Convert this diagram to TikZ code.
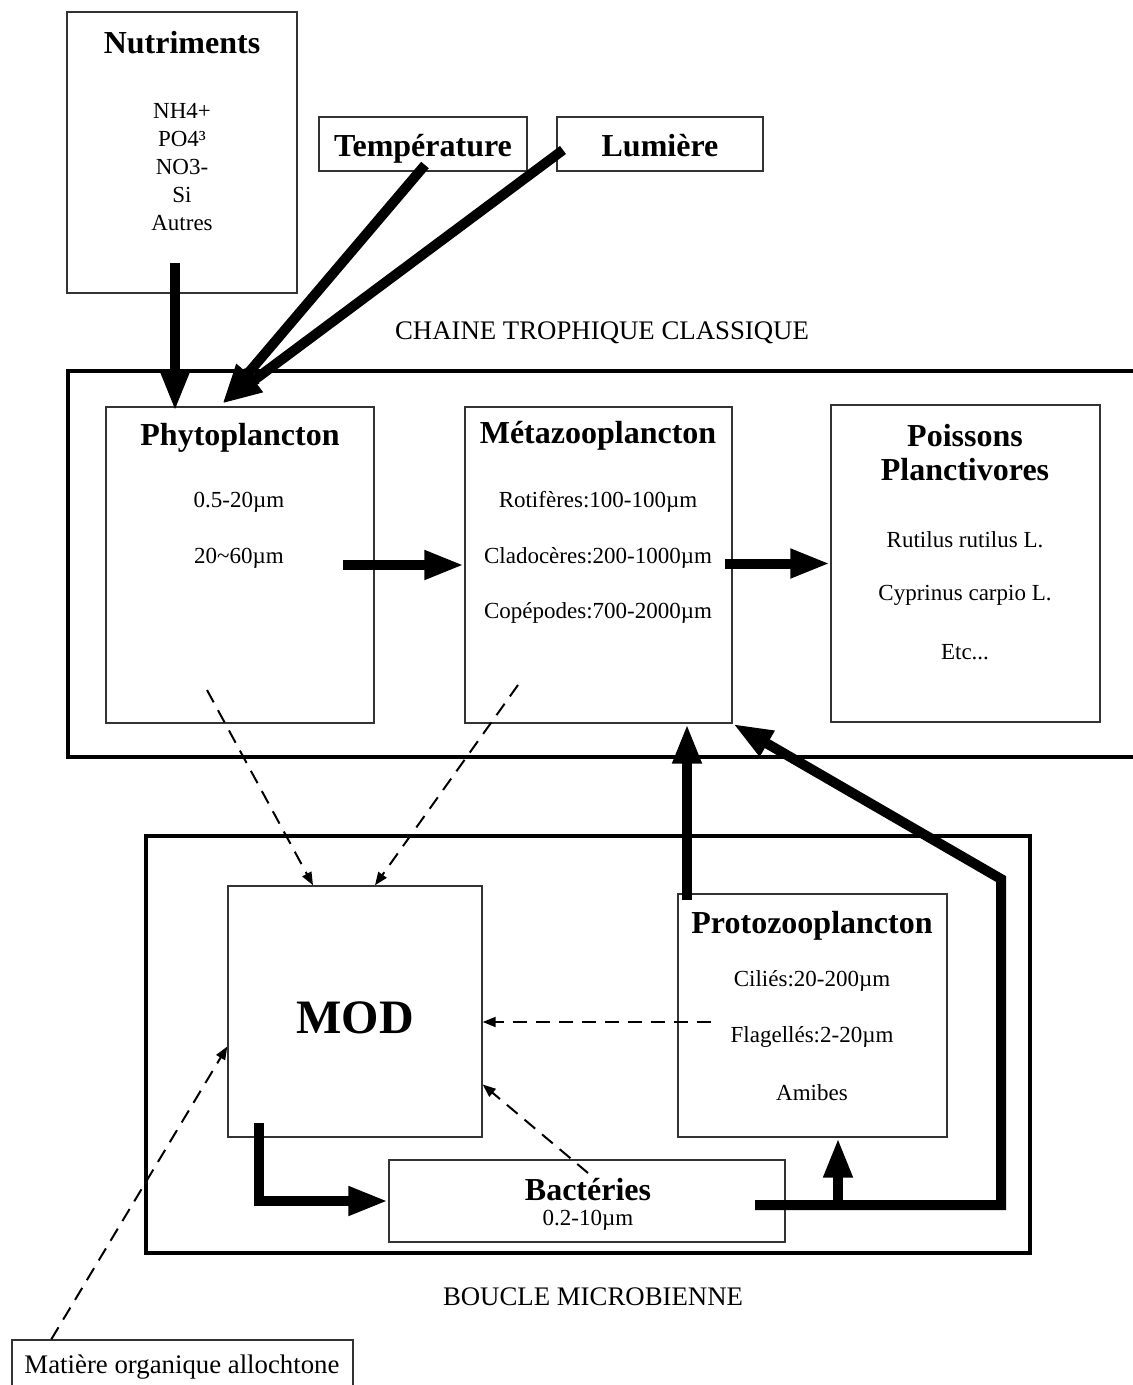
\documentclass[tikz,border=0pt]{standalone}
\usepackage{fontspec}
\setmainfont{Liberation Serif}
\usetikzlibrary{arrows.meta,calc}
\tikzset{
    frame/.style={line width=2pt},
    box/.style={draw=black!80,line width=0.7pt,inner sep=0pt},
    ttl/.style={font=\bfseries\fontsize{16}{17}\selectfont,align=center},
    txt/.style={font=\fontsize{11.5}{14}\selectfont,align=center},
    lbl/.style={font=\fontsize{13.4}{15}\selectfont},
    fat/.style={line width=5pt,-{Triangle[length=20pt,width=13.5pt]}},
    dsh/.style={line width=1pt,dash pattern=on 7pt off 4.5pt,-{Triangle[length=6.5pt,width=5pt]}},
}

\begin{document}
\begin{tikzpicture}[x=0.5pt,y=-0.5pt]
    \useasboundingbox[fill=white] (0,0) rectangle (1132,1385);
    % the two frames
    \draw[frame] (1140,371) -- (68,371) -- (68,757) -- (1140,757);
    \draw[frame] (146,836) rectangle (1030,1253);
    \node[lbl] (chaine) at (602,333) {CHAINE TROPHIQUE CLASSIQUE};
    \node[lbl] (boucle) at (593,1297) {BOUCLE MICROBIENNE};
    % boxes
    \node[box,line width=1.2pt,minimum width=115pt,minimum height=140.5pt] (nutri) at (182,152.5) {};
    \node[box,minimum width=104pt,minimum height=27pt] (temp) at (423,144) {};
    \node[box,minimum width=103pt,minimum height=27pt] (lum) at (660,144) {};
    \node[box,minimum width=134pt,minimum height=158pt] (phyto) at (240,565) {};
    \node[box,minimum width=133.5pt,minimum height=158pt] (meta) at (598.5,565) {};
    \node[box,minimum width=134.5pt,minimum height=158.5pt] (poiss) at (965.5,563.5) {};
    \node[box,minimum width=127pt,minimum height=125.5pt] (mod) at (355,1011.5) {};
    \node[box,minimum width=134.5pt,minimum height=121.5pt] (proto) at (812.5,1015.5) {};
    \node[box,minimum width=198pt,minimum height=41pt] (bact) at (587,1201) {};
    \node[box,minimum width=170.5pt,minimum height=30pt] (allo) at (182.5,1370) {};
    % texts
    \node[ttl] (nutriT) at (182,43) {Nutriments};
    \node[txt] (nutriL) at (182,167) {NH4+\\PO4³\\NO3-\\Si\\Autres};
    \node[ttl] (tempT) at (423,149) {Température};
    \node[ttl] (lumT) at (660,146) {Lumière};
    \node[ttl] (phytoT) at (240,438) {Phytoplancton};
    \node[txt] (phyto1) at (239,502) {0.5-20µm};
    \node[txt] (phyto2) at (239,558) {20\textasciitilde60µm};
    \node[ttl] (metaT) at (598,436) {Métazooplancton};
    \node[txt] (meta1) at (598,502) {Rotifères:100-100µm};
    \node[txt] (meta2) at (598,558) {Cladocères:200-1000µm};
    \node[txt] (meta3) at (598,613) {Copépodes:700-2000µm};
    \node[ttl] (poissT) at (965,453) {Poissons\\Planctivores};
    \node[txt] (poiss1) at (965,540) {Rutilus rutilus L.};
    \node[txt] (poiss2) at (965,595) {Cyprinus carpio L.};
    \node[txt] (poiss3) at (965,652) {Etc...};
    \node[font=\bfseries\fontsize{24}{26}\selectfont] (modT) at (355,1018) {MOD};
    \node[ttl] (protoT) at (812,926) {Protozooplancton};
    \node[txt] (proto1) at (812,981) {Ciliés:20-200µm};
    \node[txt] (proto2) at (812,1037) {Flagellés:2-20µm};
    \node[txt] (proto3) at (812,1093) {Amibes};
    \node[ttl] (bactT) at (588,1190) {Bactéries};
    \node[txt] (bact1) at (588,1220) {0.2-10µm};
    \node[lbl] (alloT) at (182,1367) {Matière organique allochtone};
    % loose ends
    \coordinate (nutA) at (175,263);
    \coordinate (tempA) at (425,165);
    \coordinate (lumA) at (563,150);
    \coordinate (phyA) at (222,404);
    \coordinate (pmA) at (343,565);
    \coordinate (mpA) at (725,563.5);
    \coordinate (zA) at (687,900);
    \coordinate (mbA) at (259,1123);
    \coordinate (bpA) at (838,1205);
    \coordinate (brA) at (755,1205);
    \coordinate (brB) at (1001,1205);
    \coordinate (brC) at (1001,879);
    \coordinate (phD) at (207,690);
    \coordinate (meD) at (518,685);
    \coordinate (prD) at (711,1022);
    \coordinate (baD) at (588,1173);
    % thick arrows
    \draw[fat] (nutA) -- ($(phyto.north -| nutA)+(0,5)$);
    \draw[fat] (tempA) -- (phyA);
    \draw[fat] (lumA) -- (phyA);
    \draw[fat] (pmA) -- (meta.west);
    \draw[fat] (mpA) -- (poiss.west);
    \draw[fat] (zA) -- (meta.south -| zA);
    \draw[fat] (mbA) |- (bact.west);
    \draw[fat] (bpA) -- (proto.south -| bpA);
    \draw[fat] (brA) -- (brB) -- (brC) -- (meta.south east);
    % dashed arrows
    \draw[dsh] (phD) -- ($(mod.north)+(-42,0)$);
    \draw[dsh] (meD) -- ($(mod.north)+(20,0)$);
    \draw[dsh] (prD) -- (mod.east |- prD);
    \draw[dsh] (baD) -- ($(mod.east)+(0,73)$);
    \draw[dsh] ($(allo.north west)+(40,0)$) -- ($(mod.west)+(0,35)$);
\end{tikzpicture}
\end{document}
